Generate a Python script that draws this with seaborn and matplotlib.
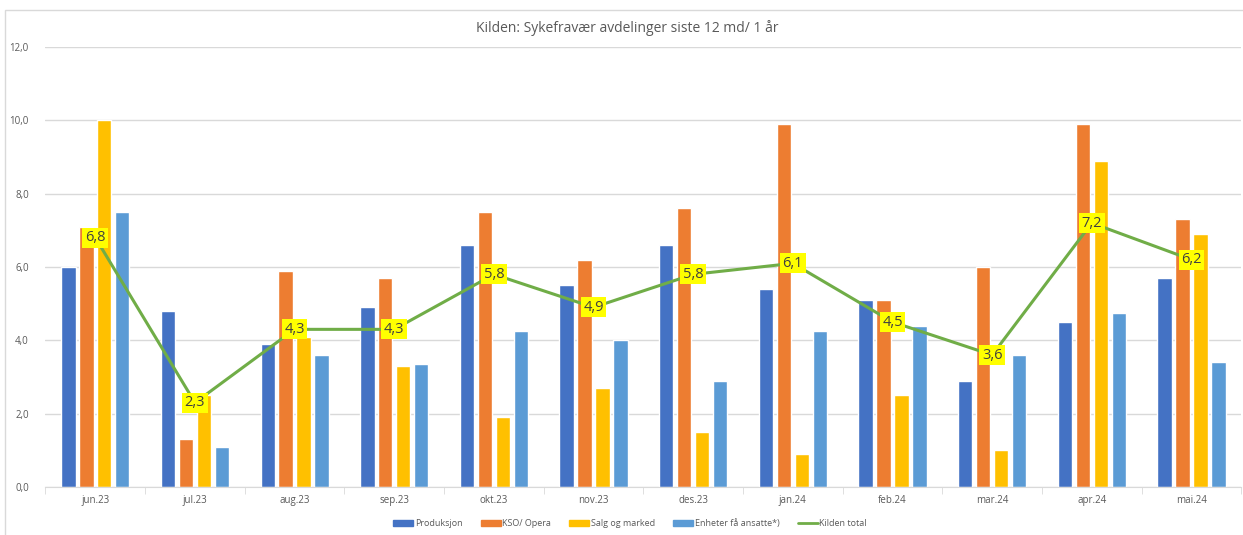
import pandas as pd
import numpy as np
import matplotlib
matplotlib.use("Agg")
import matplotlib.pyplot as plt
import seaborn as sns
from matplotlib.patches import Rectangle, Patch
from matplotlib.lines import Line2D

# data
months = ["jun.23", "jul.23", "aug.23", "sep.23", "okt.23", "nov.23",
          "des.23", "jan.24", "feb.24", "mar.24", "apr.24", "mai.24"]
produksjon = [6.0, 4.8, 3.9, 4.9, 6.6, 5.5, 6.6, 5.4, 5.1, 2.9, 4.5, 5.7]
kso_opera = [7.1, 1.3, 5.9, 5.7, 7.5, 6.2, 7.6, 9.9, 5.1, 6.0, 9.9, 7.3]
salg_marked = [10.0, 2.5, 4.1, 3.3, 1.9, 2.7, 1.5, 0.9, 2.5, 1.0, 8.9, 6.9]
enheter = [7.5, 1.1, 3.6, 3.35, 4.25, 4.0, 2.9, 4.25, 4.4, 3.6, 4.75, 3.4]
kilden_total = [6.8, 2.3, 4.3, 4.3, 5.8, 4.9, 5.8, 6.1, 4.5, 3.6, 7.2, 6.2]

series = ["Produksjon", "KSO/ Opera", "Salg og marked", "Enheter få ansatte*)"]
colors = ["#4472C4", "#ED7D31", "#FFC000", "#5B9BD5"]
line_color = "#70AD47"

df = pd.DataFrame({
    "mnd": months * 4,
    "serie": np.repeat(series, len(months)),
    "verdi": produksjon + kso_opera + salg_marked + enheter,
})

sns.set_style("white")
plt.rcParams["font.family"] = ["Open Sans", "DejaVu Sans"]

fig = plt.figure(figsize=(12.43, 5.35), dpi=100)
ax = fig.add_axes([0.0366, 0.0897, 0.962, 0.8224])

sns.barplot(data=df, x="mnd", y="verdi", hue="serie", order=months,
            hue_order=series, palette=colors, width=0.72, gap=0.2,
            saturation=1, ax=ax, legend=False)

# total line with yellow labels
x = np.arange(len(months))
ax.plot(x, kilden_total, color=line_color, lw=2.2, zorder=4)
for xi, v in zip(x, kilden_total):
    ax.text(xi, v, f"{v:.1f}".replace(".", ","), ha="center", va="center",
            fontsize=10.5, color="#404040", zorder=5,
            bbox=dict(boxstyle="square,pad=0.18", fc="#FFFF00", ec="none"))

ax.set_ylim(0, 12)
ax.set_xlim(-0.5, len(months) - 0.5)
ax.set_yticks(np.arange(0, 13, 2))
ax.set_yticklabels([f"{t:.1f}".replace(".", ",") for t in np.arange(0, 13, 2)])
ax.yaxis.grid(True, color="#D9D9D9", lw=1)
ax.set_axisbelow(True)
for s in ["top", "right", "left"]:
    ax.spines[s].set_visible(False)
ax.spines["bottom"].set_color("#D9D9D9")
ax.tick_params(axis="y", length=0, labelsize=7, labelcolor="#595959", pad=12)
ax.tick_params(axis="x", length=0, labelsize=7, labelcolor="#595959", pad=6)
ax.set_xticks(np.arange(-0.5, len(months), 1), minor=True)
ax.tick_params(axis="x", which="minor", length=5, color="#D9D9D9", bottom=True)
ax.set_xlabel("")
ax.set_ylabel("")

fig.text(0.505, 0.947, "Kilden: Sykefravær avdelinger siste 12 md/ 1 år",
         ha="center", va="center", fontsize=10, color="#595959")

handles = [Patch(color=c, label=s) for c, s in zip(colors, series)]
handles.append(Line2D([0], [0], color=line_color, lw=2, label="Kilden total"))
fig.legend(handles=handles, loc="center", bbox_to_anchor=(0.507, 0.021),
           ncol=5, frameon=False, fontsize=6.5, handlelength=2.2,
           handleheight=0.5, handletextpad=0.2, columnspacing=2.0,
           labelcolor="#595959")

# chart frame
fig.patches.append(Rectangle((5 / 1243, -0.1), 1.0, 1.1 - 10 / 535,
                             transform=fig.transFigure, fill=False,
                             ec="#D9D9D9", lw=1))

fig.savefig("out.png", dpi=100)
